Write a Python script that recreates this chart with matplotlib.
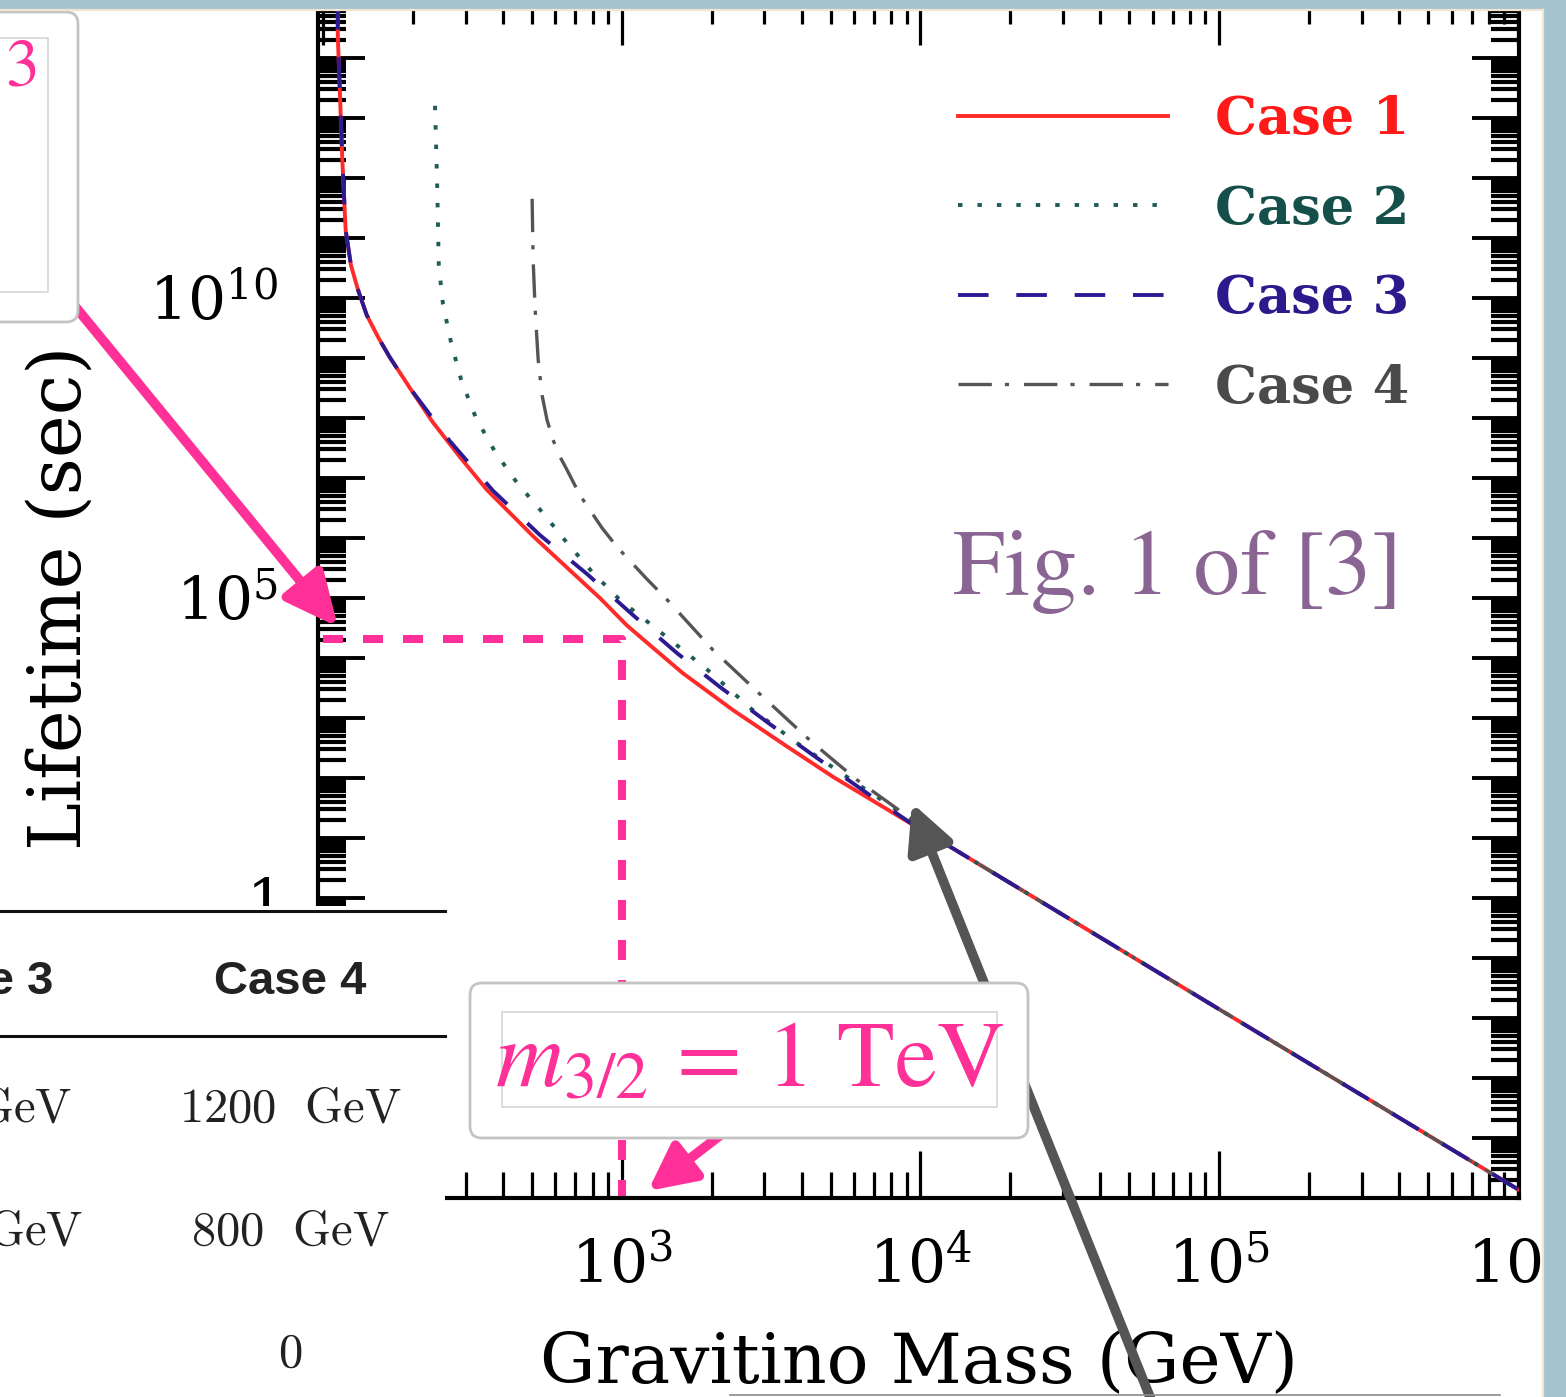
import numpy as np
import matplotlib
matplotlib.use("Agg")
import matplotlib.pyplot as plt
from matplotlib.patches import FancyBboxPatch, Rectangle, FancyArrowPatch
from matplotlib.ticker import LogLocator, FuncFormatter, NullFormatter

plt.rcParams["mathtext.fontset"] = "dejavuserif"
plt.rcParams["lines.scale_dashes"] = False

W, H = 1566, 1397

# curves: gravitino mass (GeV) vs lifetime (sec)
tail_mass = [1.26e4, 1e5, 1e6]
tail_life = [7.1, 1.4e-2, 1.4e-5]

case1_mass = [112, 112, 116, 119, 124, 131, 140, 153, 167, 195, 233, 288, 354,
              505, 656, 845, 1040, 1240, 1600, 2360, 3470, 5090, 7500, 9750]
case1_life = [1e15, 2.4e14, 2.0e12, 1.35e11, 3.5e10, 1.35e10, 5.2e9, 2.2e9,
              1.04e9, 3.2e8, 8.5e7, 2.2e7, 6.3e6, 1.07e6, 3.2e5, 1.0e5, 3.5e4,
              1.65e4, 5.6e3, 1.35e3, 370, 105, 33, 15]

case2_mass = [237, 241, 244, 252, 268, 290, 325, 377, 446, 545, 656, 802, 986,
              1245, 1570, 1980, 2690, 3860, 5680, 8350]
case2_life = [1.6e13, 7.6e11, 3.5e10, 7.9e9, 1.85e9, 4.3e8, 1.0e8, 2.7e7,
              8.3e6, 2.6e6, 8.3e5, 2.6e5, 9.3e4, 3.7e4, 1.47e4, 5.8e3, 1.47e3,
              383, 104, 29]

case3_mass = [112, 112, 116, 119, 124, 131, 140, 153, 167, 195, 266, 371, 532,
              766, 1090, 1530, 2130, 3130, 4510, 6620, 9750]
case3_life = [1e15, 2.4e14, 2.0e12, 1.35e11, 3.5e10, 1.35e10, 5.2e9, 2.2e9,
              1.04e9, 3.2e8, 4.1e7, 6.1e6, 1.12e6, 2.5e5, 5.2e4, 1.21e4, 3.3e3,
              794, 215, 56, 15]

case4_mass = [501, 505, 513, 525, 541, 562, 589, 617, 656, 724, 859, 964, 1205,
              1420, 2020, 2970, 4365, 6130, 8750]
case4_life = [4.5e11, 4.3e10, 6.3e9, 9.3e8, 2.4e8, 9.3e7, 4.3e7, 2.4e7, 1.36e7,
              5.2e6, 1.47e6, 7.1e5, 2.15e5, 9.3e4, 1.36e4, 2.24e3, 383, 93, 26]

labels = ["Case 1", "Case 2", "Case 3", "Case 4"]
line_colors = ["#ff2a2a", "#1d5c57", "#2c1a92", "#555555"]
text_colors = ["#ff1a1a", "#154f4a", "#2b1a8c", "#4a4a4a"]

# 1 TeV marker
mark_mass = 1000
mark_life = 2.1e4

x_ticklabels = {3: r"$10^{3}$", 4: r"$10^{4}$", 5: r"$10^{5}$", 6: r"$10^{6}$"}
y_ticklabels = {0: r"$1$", 5: r"$10^{5}$", 10: r"$10^{10}$"}

table_header = ["Case 3", "Case 4"]
table_rows = [["GeV", "1200  GeV"], ["GeV", "800  GeV"], ["", "0"]]

PINK = "#ff3097"

fig = plt.figure(figsize=(W / 100, H / 100), dpi=100, facecolor="white")
ax = fig.add_axes([318 / W, 1 - 1198 / H, 1201 / W, 1200 / H])
ax.set_xscale("log")
ax.set_yscale("log")

ax.plot(case1_mass + tail_mass, case1_life + tail_life, color=line_colors[0],
        lw=2.8, label=labels[0], zorder=3)
ax.plot(case2_mass + tail_mass, case2_life + tail_life, color=line_colors[1],
        lw=2.8, dashes=[3.2, 10.8], label=labels[1], zorder=3.1)
ax.plot(case4_mass + tail_mass, case4_life + tail_life, color=line_colors[3],
        lw=2.4, dashes=[24, 9.4, 3, 10.8], label=labels[3], zorder=3.2)
ax.plot(case3_mass + tail_mass, case3_life + tail_life, color=line_colors[2],
        lw=2.8, dashes=[22, 20], label=labels[2], zorder=3.3)

# pink guide lines at 1 TeV
ax.plot([100, mark_mass, mark_mass], [mark_life, mark_life, 10 ** -5.15],
        color=PINK, lw=5.8, dashes=[14.4, 14.4], clip_on=False, zorder=2.5)

ax.set_xlim(10 ** 1.983, 10 ** 6.004)
ax.set_ylim(1e-5, 1e15)

for axis in (ax.xaxis, ax.yaxis):
    axis.set_major_locator(LogLocator(base=10, numticks=40))
    axis.set_minor_locator(LogLocator(base=10, subs=np.arange(2, 10), numticks=400))
    axis.set_minor_formatter(NullFormatter())


def xfmt(v, pos):
    return x_ticklabels.get(int(round(np.log10(v))), "")


def yfmt(v, pos):
    return y_ticklabels.get(int(round(np.log10(v))), "")


ax.xaxis.set_major_formatter(FuncFormatter(xfmt))
ax.yaxis.set_major_formatter(FuncFormatter(yfmt))
ax.tick_params(which="both", direction="in", top=True, right=True, width=2.3)
ax.tick_params(which="major", length=34, pad=29, labelsize=43)
ax.tick_params(which="minor", length=19, width=2.3)
ax.yaxis.set_tick_params(which="minor", width=3.0, length=20)
ax.yaxis.set_tick_params(which="major", width=2.8)
for sp in ax.spines.values():
    sp.set_linewidth(3)

ax.set_xlabel("Gravitino Mass (GeV)", fontsize=50, family="DejaVu Serif")
ax.xaxis.set_label_coords(0.5, -0.1385)
ax.xaxis.label.set_va("center")
ax.set_ylabel("Lifetime (sec)", fontsize=52, family="DejaVu Serif")
ax.yaxis.set_label_coords(-0.2148, 0.5)
ax.yaxis.label.set_va("center")
ax.yaxis.label.set_ha("center")

handles, labs = ax.get_legend_handles_labels()
order = [labs.index(l) for l in labels]
leg = ax.legend([handles[i] for i in order], [labs[i] for i in order],
                loc="upper left", bbox_to_anchor=(958 / W, 1 - 94 / H),
                bbox_transform=fig.transFigure, frameon=False,
                handlelength=3.98, handletextpad=0.89, labelspacing=0.73,
                borderpad=0, borderaxespad=0,
                prop={"family": "DejaVu Serif", "weight": "bold", "size": 38})
for txt, c in zip(leg.get_texts(), text_colors):
    txt.set_color(c)

# ---- slide overlay, in image pixel coordinates ----
ov = fig.add_axes([0, 0, 1, 1], zorder=5)
ov.set_xlim(0, W)
ov.set_ylim(H, 0)
ov.axis("off")
ov.patch.set_visible(False)

ov.add_patch(FancyArrowPatch((1152, 1402), (912, 803), arrowstyle="-|>,head_length=28,head_width=14",
                             color="#555555", lw=7.0, shrinkA=0, shrinkB=0, zorder=1))
ov.add_patch(FancyArrowPatch((60, 288), (338, 627), arrowstyle="-|>,head_length=32,head_width=15",
                             color=PINK, lw=7.0, shrinkA=0, shrinkB=0, zorder=1))
ov.add_patch(FancyArrowPatch((740, 1120), (648, 1191), arrowstyle="-|>,head_length=28,head_width=14",
                             color=PINK, lw=7.0, shrinkA=0, shrinkB=0, zorder=1))

# boxes
ov.add_patch(FancyBboxPatch((-20, 12), 98, 310, boxstyle="round,pad=0,rounding_size=12",
                            fc="white", ec="#c4c4c4", lw=2.0, zorder=2))
ov.add_patch(Rectangle((-10, 38), 58, 254, fc="none", ec="#d6d6d6", lw=1.2, zorder=2.1))
ov.text(22, 70, "3", family="STIXGeneral", fontsize=49, color=PINK,
        ha="center", va="center", zorder=2.2)

ov.add_patch(FancyBboxPatch((470, 983), 558, 155, boxstyle="round,pad=0,rounding_size=12",
                            fc="white", ec="#c4c4c4", lw=2.0, zorder=2))
ov.add_patch(Rectangle((502, 1012), 495, 95, fc="none", ec="#d6d6d6", lw=1.2, zorder=2.1))
ov.text(750, 1060, r"$m_{3/2}\, =\, 1\ \mathrm{TeV}$", math_fontfamily="stix",
        fontsize=68, color=PINK, ha="center", va="center", zorder=2.2)

ov.text(1178, 572, "Fig. 1 of [3]", family="STIXGeneral", fontsize=67,
        color="#8a6593", ha="center", va="center", zorder=2)

# table fragment
ov.add_patch(Rectangle((0, 906), 445, 500, fc="white", ec="none", zorder=3))
ov.plot([0, 445], [911, 911], color="#111111", lw=2.2, zorder=3.1)
ov.plot([0, 445], [1036, 1036], color="#111111", lw=2.2, zorder=3.1)
ov.text(53, 994, table_header[0], family="Liberation Sans", weight="bold",
        fontsize=34, color="#222222", ha="right", va="baseline", zorder=3.2)
ov.text(290, 994, table_header[1], family="Liberation Sans", weight="bold",
        fontsize=34, color="#222222", ha="center", va="baseline", zorder=3.2)
row_base = [1122, 1245, 1367]
row_left_end = [72, 83, 0]
for (left, right), yb, xl in zip(table_rows, row_base, row_left_end):
    if left:
        ov.text(xl, yb, r"$\mathrm{%s}$" % left, math_fontfamily="cm", fontsize=35,
                color="#222222", ha="right", va="baseline", zorder=3.2)
    ov.text(290, yb, r"$\mathrm{%s}$" % right.replace(" ", r"\ "), math_fontfamily="cm",
            fontsize=35, color="#222222", ha="center", va="baseline", zorder=3.2)

ov.plot([730, 1500], [1395, 1395], color="#8a8a8a", lw=1.2, zorder=3)

# textured slide border
BLUE = "#a5c2ce"
ov.add_patch(Rectangle((-5, -5), W + 10, 14, fc=BLUE, ec="none", zorder=10))
ov.add_patch(Rectangle((1543, -5), 30, H + 10, fc=BLUE, ec="none", zorder=10))
ov.plot([0, 1543], [9.5, 9.5], color="#eee6cf", lw=1.6, zorder=10.1)
ov.plot([1543, 1543], [9.5, H], color="#eee6cf", lw=1.6, zorder=10.1)

fig.savefig("out.png", dpi=100, facecolor="white")
